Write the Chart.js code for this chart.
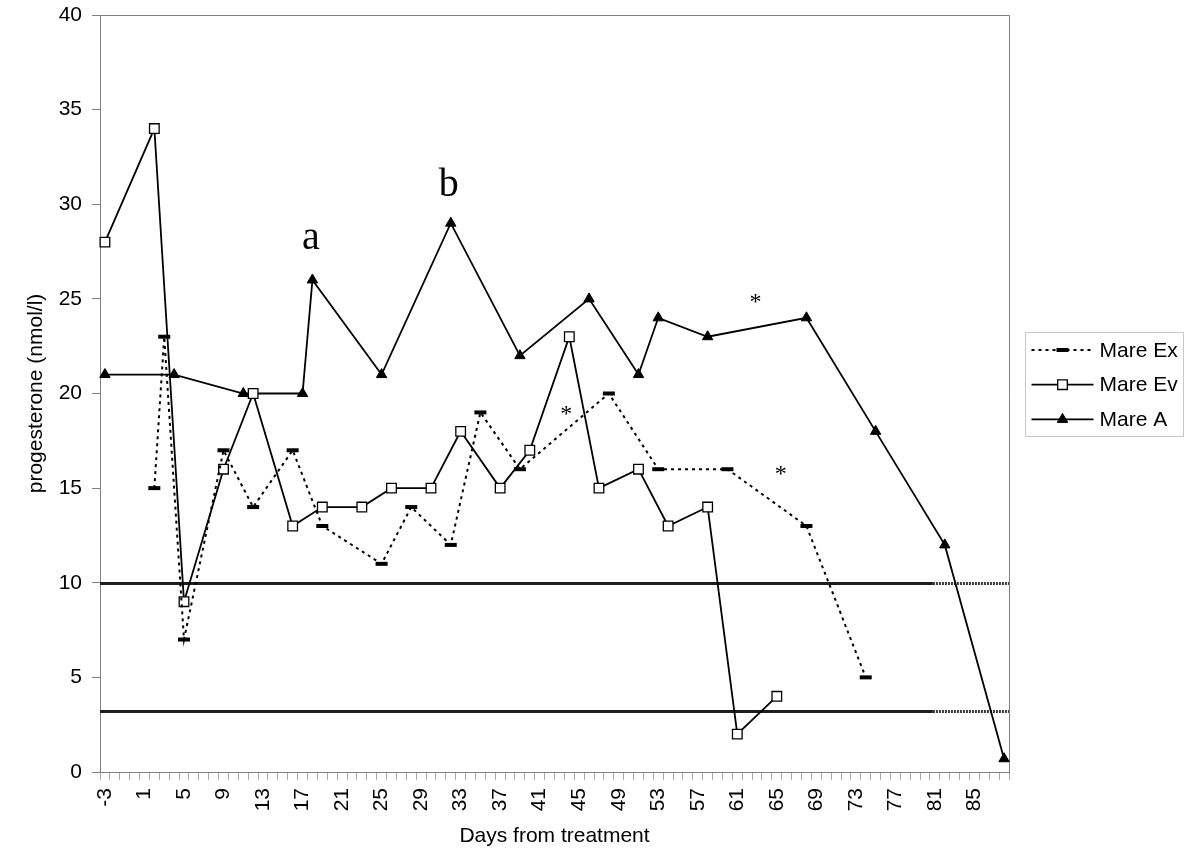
<!DOCTYPE html>
<html>
<head>
<meta charset="utf-8">
<script src="https://cdn.jsdelivr.net/npm/chart.js@4/dist/chart.umd.min.js"></script>
<style>
html,body{margin:0;padding:0;background:#fff;}
#wrap{width:1200px;height:867px;position:relative;}
</style>
</head>
<body>
<div id="wrap"><canvas id="c" width="1200" height="867"></canvas></div>
<script>
// ---- data ----
const categories = [-3,-2,-1,0,1,2,3,4,5,6,7,8,9,10,11,12,13,14,15,16,17,18,19,20,21,22,23,24,25,26,27,28,29,30,31,32,33,34,35,36,37,38,39,40,41,42,43,44,45,46,47,48,49,50,51,52,53,54,55,56,57,58,59,60,61,62,63,64,65,66,67,68,69,70,71,72,73,74,75,76,77,78,79,80,81,82,83,84,85,86,87,88];
const tickLabels = ['-3','1','5','9','13','17','21','25','29','33','37','41','45','49','53','57','61','65','69','73','77','81','85'];

const mareExDays = [2,3,5,9,12,16,19,25,28,32,35,39,48,53,60,68,74];
const mareExVals = [15,23,7,17,14,17,13,11,14,12,19,16,20,16,16,13,5];

const mareEvDays = [-3,2,5,9,12,16,19,23,26,30,33,37,40,44,47,51,54,58,61,65];
const mareEvVals = [28,34,9,16,20,13,14,14,15,15,18,15,17,23,15,16,13,14,2,4];

const mareADays = [-3,4,11,17,18,25,32,39,46,51,53,58,68,75,82,88];
const mareAVals = [21,21,20,20,26,21,29,22,25,21,24,23,24,18,12,0.7];

const referenceLevels = [10, 3.2];

const annotationTexts = ['a','b','*','*','*'];
const annotationDays  = [17.84, 31.8, 43.7, 62.85, 65.4];
const annotationVals  = [28.16, 31.2, 19.12, 25.0, 15.92];

// ---- chart ----
const SANS = '"Liberation Sans", Arial, sans-serif';
const SERIF = '"Liberation Serif", "Times New Roman", serif';
const REF_SPLIT_DAY = 80.8; // where the reference lines turn lighter
const labels = categories.map(String);
const toPts = (days, vals) => days.map((d, i) => ({x: String(d), y: vals[i]}));

const refLinePlugin = {
  id: 'refLines',
  beforeDatasetsDraw(chart) {
    const {ctx, chartArea: a, scales: {x, y}} = chart;
    const split = x.getPixelForValue(REF_SPLIT_DAY - categories[0]);
    ctx.save();
    referenceLevels.forEach(v => {
      const py = Math.round(y.getPixelForValue(v)) + 0.5;
      ctx.strokeStyle = '#1e1e1e';
      ctx.lineWidth = 3;
      ctx.setLineDash([]);
      ctx.beginPath(); ctx.moveTo(a.left, py); ctx.lineTo(split, py); ctx.stroke();
      ctx.strokeStyle = '#3a3a3a';
      ctx.setLineDash([2, 1]);
      ctx.beginPath(); ctx.moveTo(split, py); ctx.lineTo(a.right, py); ctx.stroke();
    });
    ctx.setLineDash([]);
    ctx.strokeStyle = '#808080';
    ctx.lineWidth = 1;
    ctx.beginPath();
    ctx.moveTo(a.left, Math.round(a.top) + 0.5);
    ctx.lineTo(Math.round(a.right) + 0.5, Math.round(a.top) + 0.5);
    ctx.lineTo(Math.round(a.right) + 0.5, a.bottom);
    ctx.stroke();
    ctx.restore();
  }
};

const annotationPlugin = {
  id: 'annots',
  afterDatasetsDraw(chart) {
    const {ctx, scales: {x, y}} = chart;
    ctx.save();
    ctx.fillStyle = '#000';
    ctx.textAlign = 'center';
    ctx.textBaseline = 'alphabetic';
    annotationTexts.forEach((t, i) => {
      ctx.font = (t === '*' ? '24px ' : '40px ') + SERIF;
      const px = x.getPixelForValue(annotationDays[i] - categories[0]);
      const py = y.getPixelForValue(annotationVals[i]);
      const m = ctx.measureText(t);
      const off = (m.actualBoundingBoxAscent - m.actualBoundingBoxDescent) / 2;
      ctx.fillText(t, px, py + off);
    });
    ctx.restore();
  }
};

const legendPlugin = {
  id: 'boxLegend',
  afterDraw(chart) {
    const {ctx, chartArea: a} = chart;
    const bx = Math.round(a.right) + 16.5, by = 332.5, bw = 158, bh = 104;
    ctx.save();
    ctx.strokeStyle = '#c8c8c8';
    ctx.lineWidth = 1;
    ctx.strokeRect(bx, by, bw, bh);
    chart.data.datasets.forEach((ds, i) => {
      const cy = by + 17.5 + i * 34.7;
      ctx.save();
      ctx.strokeStyle = '#000';
      ctx.lineWidth = ds.borderWidth;
      ctx.setLineDash(ds.borderDash || []);
      ctx.beginPath(); ctx.moveTo(bx + 6, cy); ctx.lineTo(bx + 68, cy); ctx.stroke();
      ctx.restore();
      ctx.save();
      ctx.setLineDash([]);
      ctx.fillStyle = ds.pointBackgroundColor;
      ctx.strokeStyle = ds.pointBorderColor;
      ctx.lineWidth = ds.pointBorderWidth;
      Chart.helpers.drawPoint(ctx, {pointStyle: ds.pointStyle, radius: ds.pointRadius, borderWidth: ds.pointBorderWidth, rotation: 0}, bx + 37, cy);
      ctx.restore();
      ctx.fillStyle = '#000';
      ctx.font = '21px ' + SANS;
      ctx.textAlign = 'left';
      ctx.textBaseline = 'middle';
      ctx.fillText(ds.label, bx + 74, cy + 1);
    });
    ctx.restore();
  }
};

new Chart(document.getElementById('c'), {
  type: 'line',
  data: {
    labels: labels,
    datasets: [
      {
        label: 'Mare Ex',
        data: toPts(mareExDays, mareExVals),
        borderColor: '#000', borderWidth: 2, borderDash: [3, 4],
        pointStyle: 'line', pointRadius: 6, pointBorderWidth: 4,
        pointBorderColor: '#000', pointBackgroundColor: '#000',
        tension: 0, fill: false
      },
      {
        label: 'Mare Ev',
        data: toPts(mareEvDays, mareEvVals),
        borderColor: '#000', borderWidth: 1.8,
        pointStyle: 'rect', pointRadius: 6.8, pointBorderWidth: 1.3,
        pointBorderColor: '#000', pointBackgroundColor: '#fff',
        tension: 0, fill: false
      },
      {
        label: 'Mare A',
        data: toPts(mareADays, mareAVals),
        borderColor: '#000', borderWidth: 1.8,
        pointStyle: 'triangle', pointRadius: 6, pointBorderWidth: 1,
        pointBorderColor: '#000', pointBackgroundColor: '#000',
        tension: 0, fill: false
      }
    ]
  },
  options: {
    responsive: false,
    animation: false,
    devicePixelRatio: 1,
    events: [],
    layout: {padding: {left: 0, right: 191, top: 15, bottom: 0}},
    plugins: {legend: {display: false}, tooltip: {enabled: false}},
    scales: {
      x: {
        type: 'category',
        offset: true,
        grid: {display: true, drawOnChartArea: false, drawTicks: true, tickLength: 8, color: '#a8a8a8', offset: true},
        border: {display: true, color: '#808080', width: 1},
        ticks: {
          autoSkip: false, maxRotation: 90, minRotation: 90, padding: 8,
          color: '#000', font: {family: SANS, size: 21},
          callback: function(val, idx) {
            const lab = String(categories[idx]);
            return tickLabels.includes(lab) ? lab : '';
          }
        },
        title: {display: true, text: 'Days from treatment', color: '#000', font: {family: SANS, size: 21}, padding: {top: 0, bottom: 18}},
        afterFit(scale) { scale.height = 95; scale.paddingLeft = 0; scale.paddingRight = 0; }
      },
      y: {
        min: 0, max: 40,
        grid: {display: true, drawOnChartArea: false, drawTicks: true, tickLength: 8, color: '#808080'},
        border: {display: true, color: '#808080', width: 1},
        ticks: {stepSize: 5, padding: 10, color: '#000', font: {family: SANS, size: 21}},
        title: {display: true, text: 'progesterone (nmol/l)', color: '#000', font: {family: SANS, size: 21}, padding: {top: 24, bottom: 0}},
        afterFit(scale) { scale.width = 100; scale.paddingTop = 0; scale.paddingBottom = 0; }
      }
    }
  },
  plugins: [refLinePlugin, annotationPlugin, legendPlugin]
});
</script>
</body>
</html>
